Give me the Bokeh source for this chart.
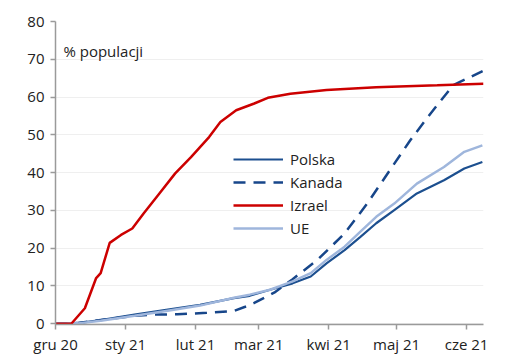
from bokeh.plotting import figure
from bokeh.models import FixedTicker, Label, Legend, LegendItem, Range1d
from bokeh.embed import file_html
from bokeh.resources import INLINE

# days since 1 Dec 2020
tick_days = [0, 31, 62, 90, 121, 151, 182]
tick_labels = ["gru 20", "sty 21", "lut 21", "mar 21", "kwi 21", "maj 21", "cze 21"]

pl_days = [0, 10, 20, 35, 49, 64, 79, 86, 95, 105, 113, 120, 128, 135, 142, 150, 160, 172, 181, 189]
pl_vals = [0, 0.2, 1.0, 2.4, 3.7, 5.0, 6.8, 7.4, 9.0, 10.7, 12.5, 16.0, 19.5, 23.0, 26.6, 30.1, 34.5, 38.0, 41.1, 42.8]

ca_days = [0, 10, 20, 35, 42, 54, 67, 79, 84, 88, 97, 105, 116, 128, 138, 148, 157, 166, 176, 189.5]
ca_vals = [0, 0.2, 1.0, 2.1, 2.4, 2.5, 2.9, 3.4, 4.5, 5.5, 8.3, 11.8, 16.9, 23.9, 31.8, 40.6, 48.5, 55.6, 63.1, 67.0]

il_days = [0, 7, 13, 18, 20, 24, 29, 34, 39, 46, 53, 60, 68, 73, 80, 88, 94, 104, 120, 142, 169, 189.5]
il_vals = [0, 0, 4.1, 12.1, 13.4, 21.4, 23.5, 25.2, 29.2, 34.5, 39.8, 44.1, 49.4, 53.4, 56.5, 58.3, 59.8, 60.9, 61.9, 62.6, 63.1, 63.5]

ue_days = [0, 10, 20, 35, 49, 64, 79, 86, 95, 105, 113, 120, 128, 135, 142, 150, 160, 172, 181, 189]
ue_vals = [0, 0.1, 0.8, 2.1, 3.4, 4.8, 6.9, 7.7, 9.0, 11.2, 13.4, 16.9, 20.4, 24.4, 28.3, 31.8, 37.1, 41.5, 45.5, 47.2]

FONT = "Open Sans"
TXT = "#222222"

p = figure(width=500, height=356, output_backend="svg", toolbar_location=None,
           x_range=Range1d(0, 189.5), y_range=Range1d(-0.2, 80),
           min_border_left=55, min_border_right=17, min_border_top=21, min_border_bottom=32)
p.outline_line_color = None
p.background_fill_color = "white"

p.xgrid.visible = False
p.ygrid.grid_line_color = "#efefef"
p.ygrid.ticker = FixedTicker(ticks=list(range(0, 81, 10)))

p.yaxis.ticker = FixedTicker(ticks=list(range(0, 81, 10)))
p.xaxis.ticker = FixedTicker(ticks=tick_days)
p.xaxis.major_label_overrides = {d: l for d, l in zip(tick_days, tick_labels)}
for ax in (p.xaxis, p.yaxis):
    ax.axis_line_color = "#9a9a9a"
    ax.axis_line_width = 1.5
    ax.major_tick_line_color = "#9a9a9a"
    ax.major_tick_line_width = 1.5
    ax.major_tick_out = 5
    ax.major_tick_in = 0
    ax.minor_tick_line_color = None
    ax.major_label_text_font = FONT
    ax.major_label_text_font_size = "15px"
    ax.major_label_text_color = TXT
p.yaxis.major_label_standoff = 6
p.xaxis.major_label_standoff = 4

r_pl = p.line(pl_days, pl_vals, line_color="#1c4f8f", line_width=2.2)
r_ca = p.line(ca_days, ca_vals, line_color="#17468a", line_width=2.5, line_dash="12 8")
r_ue = p.line(ue_days, ue_vals, line_color="#9fb6dc", line_width=2.5)
r_il = p.line(il_days, il_vals, line_color="#cc0000", line_width=2.5)

legend = Legend(items=[LegendItem(label="Polska", renderers=[r_pl]),
                       LegendItem(label="Kanada", renderers=[r_ca]),
                       LegendItem(label="Izrael", renderers=[r_il]),
                       LegendItem(label="UE", renderers=[r_ue])],
                location=(178, 86))
legend.glyph_width = 50
legend.glyph_height = 20
legend.spacing = 3
legend.label_standoff = 7
legend.padding = 0
legend.margin = 0
legend.border_line_alpha = 0
legend.background_fill_alpha = 0
legend.label_text_font = FONT
legend.label_text_font_size = "15px"
legend.label_text_color = TXT
p.add_layout(legend, "center")

p.add_layout(Label(x=3.5, y=72.3, text="% populacji", text_font=FONT, text_font_size="15px",
                   text_color=TXT, text_baseline="alphabetic"))

open("out.html", "w").write(file_html(p, INLINE))
